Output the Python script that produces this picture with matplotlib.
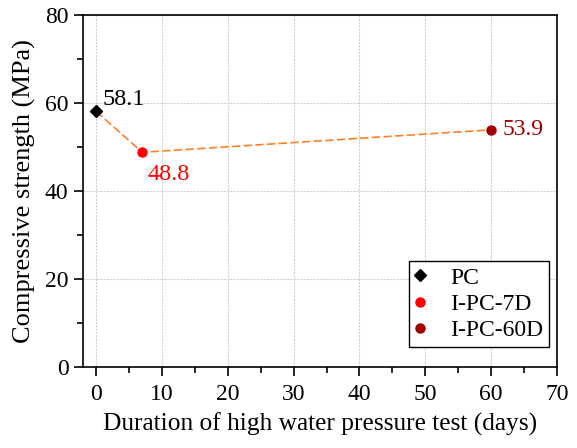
import numpy as np
import matplotlib
matplotlib.use('Agg')
from matplotlib import pyplot as plt
from matplotlib.ticker import MultipleLocator

plt.rcParams['font.family'] = ['Liberation Serif', 'DejaVu Serif']

# data
days = [0, 7, 60]
strength = [58.1, 48.8, 53.9]
names = ['PC', 'I-PC-7D', 'I-PC-60D']
colors = ['black', '#FF0000', '#A00000']
markers = ['D', 'o', 'o']
label_txt = ['58.1', '48.8', '53.9']

fig = plt.figure(figsize=(5.77, 4.48), dpi=100)
ax = fig.add_axes([0.1438, 0.1808, 0.8215, 0.7857])

ax.plot(days, strength, linestyle='--', color='#FF7F27', linewidth=1.2, dashes=(5, 2), zorder=2)
for i in range(len(days)):
    ax.plot(days[i], strength[i], linestyle='none', marker=markers[i], color=colors[i],
            markersize=6 if markers[i] == 'D' else 6.5, label=names[i], zorder=3)

ax.text(days[0] + 1.0, strength[0] + 0.4, label_txt[0], color=colors[0], fontsize=17.5, ha='left', va='bottom')
ax.text(days[1] + 0.8, strength[1] - 2.6, label_txt[1], color=colors[1], fontsize=17.5, ha='left', va='top')
ax.text(days[2] + 1.7, strength[2], label_txt[2], color=colors[2], fontsize=17, ha='left', va='center')

ax.set_xlim(-2, 70)
ax.set_ylim(0, 80)
ax.xaxis.set_major_locator(MultipleLocator(10))
ax.xaxis.set_minor_locator(MultipleLocator(5))
ax.yaxis.set_major_locator(MultipleLocator(20))
ax.yaxis.set_minor_locator(MultipleLocator(10))
ax.tick_params(which='both', direction='out', width=1.2, labelsize=17)
ax.tick_params(which='major', length=6.5)
ax.tick_params(which='minor', length=4)
ax.tick_params(axis='x', pad=6)
ax.tick_params(axis='y', pad=4)
ax.grid(True, which='major', color='#D0D0D0', linestyle=(0, (2, 1)), linewidth=0.8)
ax.set_axisbelow(True)
for s in ax.spines.values():
    s.set_linewidth(1.2)

ax.set_xlabel('Duration of high water pressure test (days)', fontsize=18.3, labelpad=5)
ax.set_ylabel('Compressive strength (MPa)', fontsize=19, labelpad=6)

leg = ax.legend(loc='lower right', fontsize=17, frameon=True, fancybox=False,
                edgecolor='black', handletextpad=1.05, borderpad=0.25, labelspacing=0.2,
                handlelength=0.45, borderaxespad=0, bbox_to_anchor=(0.983, 0.057))
leg.get_frame().set_linewidth(1.0)
leg.get_frame().set_alpha(1)

fig.savefig('out.png', dpi=100)
